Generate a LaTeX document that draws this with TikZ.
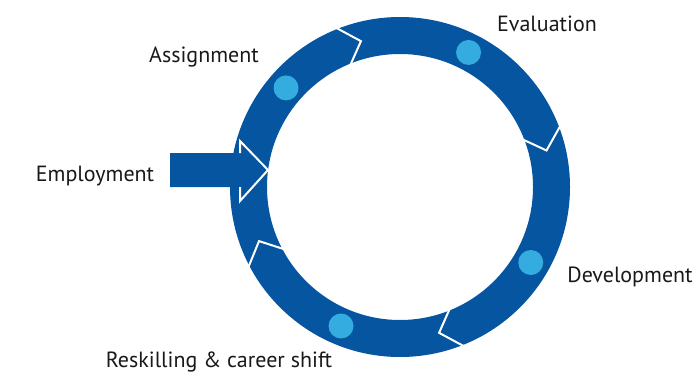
\documentclass[tikz,border=0pt]{standalone}
\usepackage{fontspec}
\setmainfont{PT Sans}
\usetikzlibrary{positioning, arrows.meta}
\definecolor{ringblue}{RGB}{5,85,160}
\definecolor{dotblue}{RGB}{52,172,224}
\tikzset{ring/.style={fill=ringblue, even odd rule}}
\tikzset{sep/.style={white, line width=2pt, line join=miter}}
\tikzset{stage/.style={circle, fill=dotblue, minimum size=25pt, inner sep=0pt}}
\tikzset{lbl/.style={text=black!90, font=\fontsize{22}{26}\selectfont, anchor=base, inner sep=0pt}}

\begin{document}
\begin{tikzpicture}[x=1pt, y=1pt]
  \useasboundingbox (0,0) rectangle (700,373);
  \coordinate (c) at (400,186);

  % ring
  \fill[ring] (c) circle (170) (c) circle (133);
  \foreach \a in {112, 21, -68, 208}
    \draw[sep] ([shift={(\a:172)}]c) -- ([shift={(\a-7:151)}]c) -- ([shift={(\a:132)}]c);

  % stages
  \foreach \a/\n in {139/asg, 63/evl, -30/dev, -113/rsk}
    \node[stage] (\n) at ([shift={(\a:151)}]c) {};

  % entry arrow
  \coordinate (tip) at (268,203);
  \fill[ringblue] (170,186) -- (170,220) -- (240,220) -- (240,232) -- (tip)
    -- (240,172) -- (240,186) -- cycle;
  \draw[sep] (240,220) -- (240,232) -- (tip) -- (240,172) -- (240,186);

  % labels
  \node[lbl] (assign) at (204,310) {Assignment};
  \node[lbl] (eval) at (547,341) {Evaluation};
  \node[lbl] (employ) at (95,192) {Employment};
  \node[lbl] (develop) at (630,91) {Development};
  \node[lbl] (reskill) at (219,6) {Reskilling \& career shift};
\end{tikzpicture}
\end{document}
